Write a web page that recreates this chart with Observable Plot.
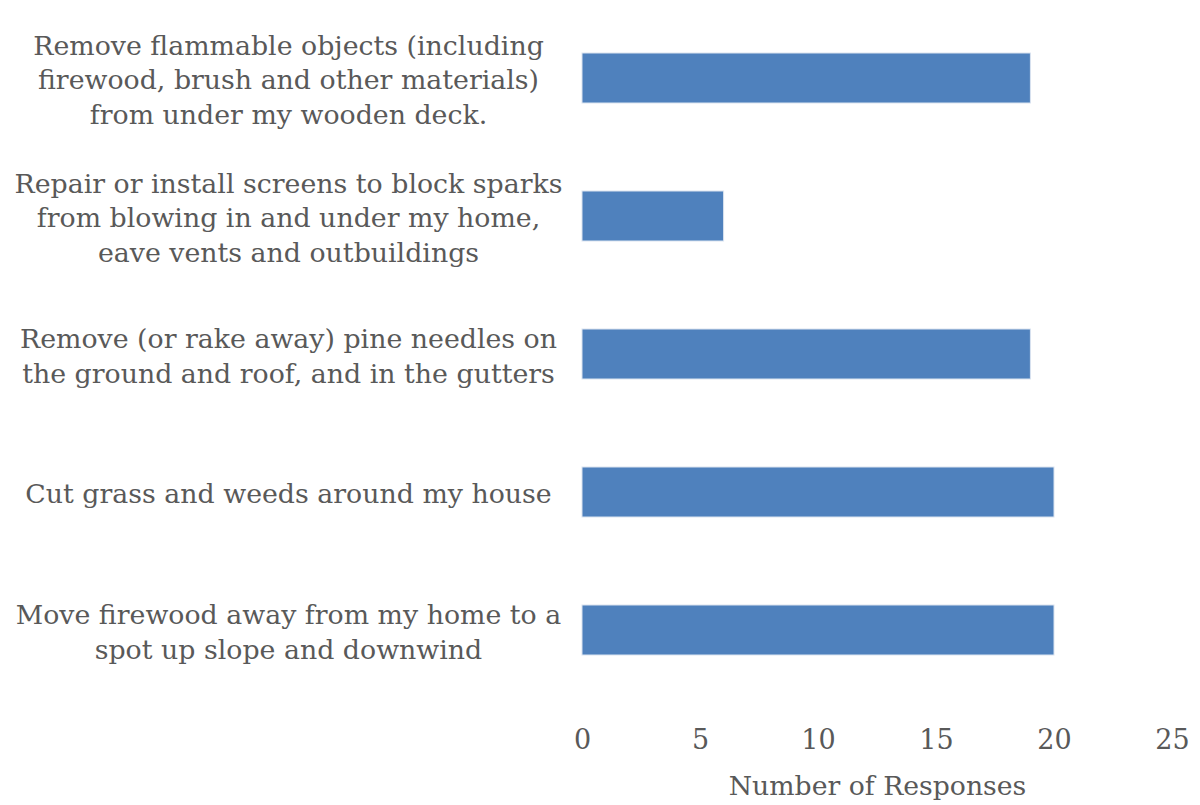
<!DOCTYPE html>
<html><head><meta charset="utf-8">
<script src="https://cdn.jsdelivr.net/npm/d3@7"></script>
<script src="https://cdn.jsdelivr.net/npm/@observablehq/plot@0.6"></script>
<style>
html,body{margin:0;padding:0;background:#fff;}
</style>
</head><body>
<div id="chart"></div>
<script>
const categories = [
  "Remove flammable objects (including\nfirewood, brush and other materials)\nfrom under my wooden deck.",
  "Repair or install screens to block sparks\nfrom blowing in and under my home,\neave vents and outbuildings",
  "Remove (or rake away) pine needles on\nthe ground and roof, and in the gutters",
  "Cut grass and weeds around my house",
  "Move firewood away from my home to a\nspot up slope and downwind"
];
const responses = [19, 6, 19, 20, 20];
const xTicks = [0, 5, 10, 15, 20, 25];
const xLabel = "Number of Responses";

const data = categories.map((c, i) => ({category: c, value: responses[i]}));
const font = "'DejaVu Serif', 'Liberation Serif', serif";

const chart = Plot.plot({
  width: 1200,
  height: 805,
  marginLeft: 582,
  marginRight: 28,
  marginTop: 9,
  marginBottom: 106,
  style: {fontFamily: font, color: "#595959", background: "#fff"},
  x: {domain: [0, 25], ticks: xTicks},
  y: {domain: categories, padding: 0, axis: null},
  marks: [
    Plot.barX(data, {y: "category", x: "value", fill: "#4F81BD", stroke: "#dbe4f0", strokeWidth: 1, insetTop: 44, insetBottom: 44}),
    Plot.text(data, {y: "category", text: "category", frameAnchor: "left", dx: -294, textAnchor: "middle", lineAnchor: "middle", lineHeight: 1.28, fontSize: 26.8, fill: "#595959"}),
    Plot.axisX({ticks: xTicks, tickSize: 0, tickPadding: 30, fontSize: 27, fill: "#595959", label: xLabel, labelAnchor: "center", labelArrow: "none", labelOffset: 95})
  ]
});
chart.querySelectorAll("[aria-label='x-axis label'] text").forEach(t => t.setAttribute("font-size", 26.7));
document.getElementById("chart").appendChild(chart);
</script>
</body></html>
